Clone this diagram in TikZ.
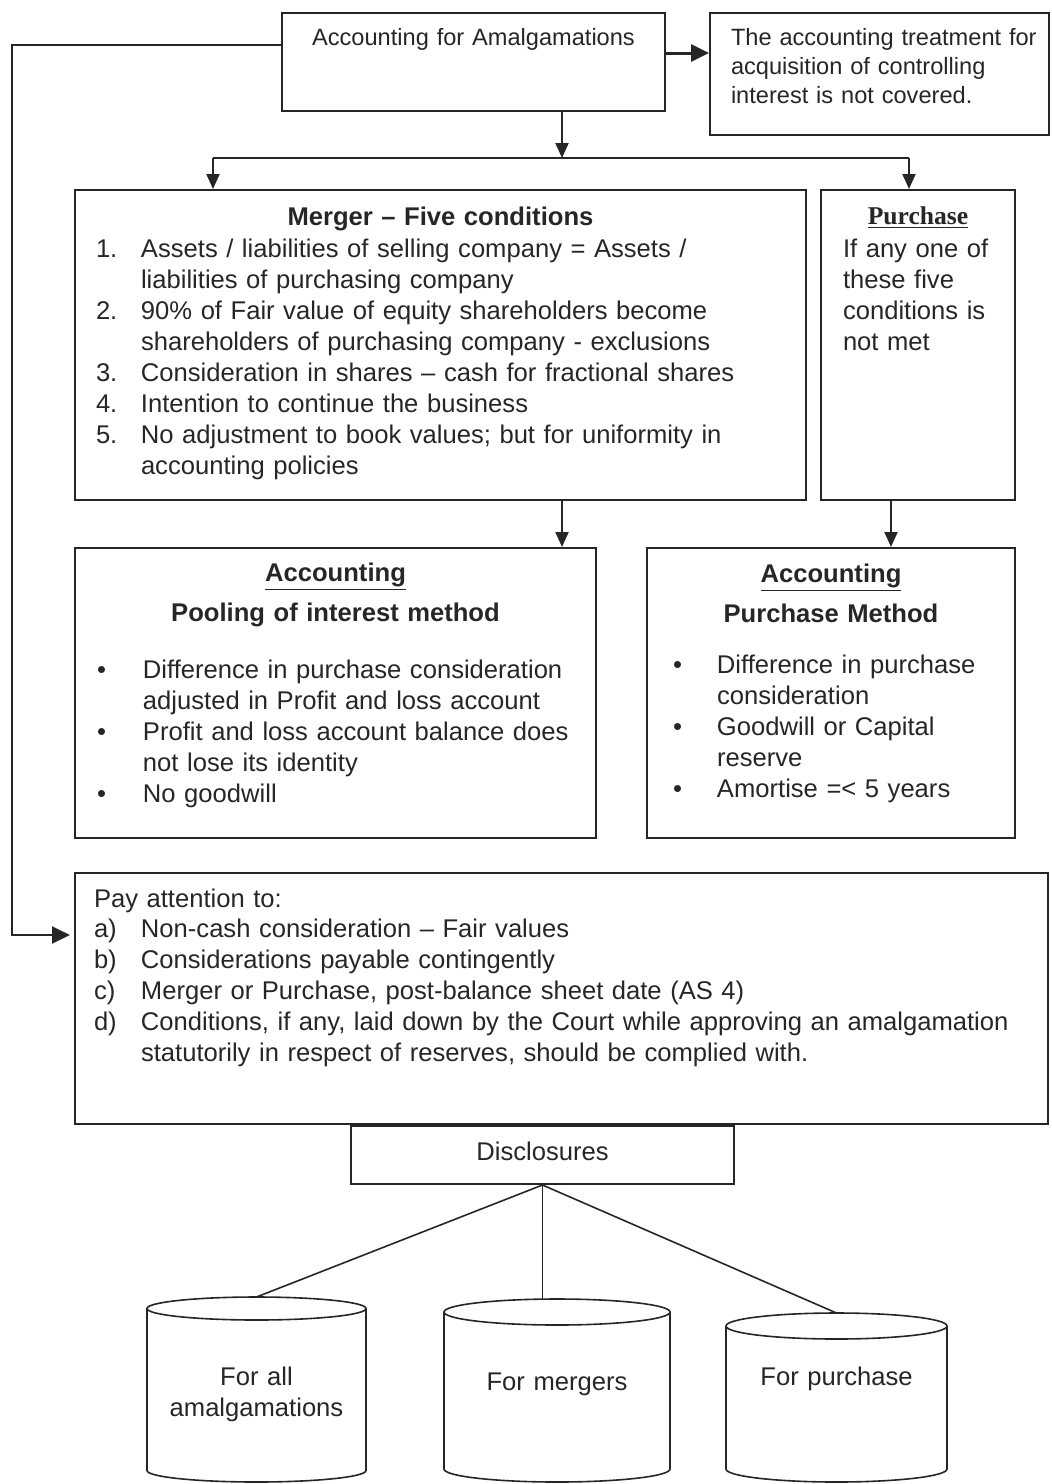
\documentclass[tikz,border=0pt]{standalone}
\usepackage{fontspec}
\setmainfont{Liberation Sans}
\newfontfamily\serifhead{Liberation Serif}
\usetikzlibrary{arrows.meta,fit}

\newcommand{\nitem}[1]{\makebox[22.5pt][l]{#1}}
\newcommand{\ncont}{\hspace*{22.5pt}}

\begin{document}
\begin{tikzpicture}[x=0.5pt,y=-0.5pt,
  line width=1pt, color=black!85,
  box/.style={draw, inner sep=0pt},
  txt/.style={inner sep=0pt, anchor=base west, align=left, text width=#1,
    font=\fontsize{12.8}{15.5}\selectfont},
  ctr/.style={inner sep=0pt, anchor=base, align=center, text width=#1,
    font=\fontsize{12.8}{15.5}\selectfont},
  arr/.style={-{Triangle[length=7.5pt,width=6.5pt]}},
  bigarr/.style={-{Triangle[length=9pt,width=8.5pt]}},
  link/.style={line width=0.8pt}]
  \useasboundingbox (0,0) rectangle (1051,1484);

  % boxes
  \node[box, fit={(282,13) (665,111)}] (top) {};
  \node[box, fit={(710,13) (1049,135)}] (note) {};
  \node[box, fit={(75,190) (806,500)}] (merger) {};
  \node[box, fit={(821,190) (1015,500)}] (purch) {};
  \node[box, fit={(75,548) (596,838)}] (pool) {};
  \node[box, fit={(647,548) (1015,838)}] (pmeth) {};
  \node[box, fit={(75,873) (1048,1124)}] (attn) {};
  \node[box, fit={(351,1126) (734,1184)}] (discl) {};

  % texts
  \node[ctr=300pt, font=\fontsize{11.8}{14.5}\selectfont] (toptxt) at (473.5,45) {Accounting for Amalgamations};
  \node[txt=165pt, font=\fontsize{11.8}{14.5}\selectfont] (notetxt) at (730,45)
    {The accounting treatment for\\ acquisition of controlling\\ interest is not covered.};

  \node[ctr=360pt] (mergerhd) at (440.5,225) {\textbf{Merger -- Five conditions}};
  \node[txt=360pt] (mergerlist) at (95,257)
    {\nitem{1.}Assets / liabilities of selling company = Assets /\\
     \ncont liabilities of purchasing company\\
     \nitem{2.}90\% of Fair value of equity shareholders become\\
     \ncont shareholders of purchasing company - exclusions\\
     \nitem{3.}Consideration in shares -- cash for fractional shares\\
     \nitem{4.}Intention to continue the business\\
     \nitem{5.}No adjustment to book values; but for uniformity in\\
     \ncont accounting policies};

  \node[ctr=90pt] (purchhd) at (918,224) {\serifhead\bfseries\underline{Purchase}};
  \node[txt=90pt] (purchtxt) at (842,257) {If any one of\\ these five\\ conditions is\\ not met};

  \node[ctr=240pt] (poolhd) at (335.5,581) {\textbf{\underline{Accounting}}};
  \node[ctr=240pt] (poolsub) at (335.5,621) {\textbf{Pooling of interest method}};
  \node[txt=250pt] (poollist) at (96,678)
    {\makebox[23pt][l]{•}Difference in purchase consideration\\
     \hspace*{23pt}adjusted in Profit and loss account\\
     \makebox[23pt][l]{•}Profit and loss account balance does\\
     \hspace*{23pt}not lose its identity\\
     \makebox[23pt][l]{•}No goodwill};

  \node[ctr=170pt] (pmethhd) at (831,582) {\textbf{\underline{Accounting}}};
  \node[ctr=170pt] (pmethsub) at (831,622) {\textbf{Purchase Method}};
  \node[txt=170pt] (pmethlist) at (672,673)
    {\makebox[22pt][l]{•}Difference in purchase\\
     \hspace*{22pt}consideration\\
     \makebox[22pt][l]{•}Goodwill or Capital\\
     \hspace*{22pt}reserve\\
     \makebox[22pt][l]{•}Amortise =< 5 years};

  \node[txt=480pt, font=\fontsize{12.8}{15.4}\selectfont] (attntxt) at (93,907)
    {Pay attention to:\\
     \makebox[23.5pt][l]{a)}Non-cash consideration -- Fair values\\
     \makebox[23.5pt][l]{b)}Considerations payable contingently\\
     \makebox[23.5pt][l]{c)}Merger or Purchase, post-balance sheet date (AS 4)\\
     \makebox[23.5pt][l]{d)}Conditions, if any, laid down by the Court while approving an amalgamation\\
     \hspace*{23.5pt}statutorily in respect of reserves, should be complied with.};

  \node[ctr=150pt] (discltxt) at (542.5,1160) {Disclosures};

  % cylinders
  \draw[link] (147,1308.5) -- (147,1470.5) arc[start angle=180, end angle=360, x radius=54.75pt, y radius=5.75pt] -- (366,1308.5);
  \draw[link] (256.5,1308.5) ellipse [x radius=54.75pt, y radius=5.75pt];
  \draw[link] (444,1312) -- (444,1469) arc[start angle=180, end angle=360, x radius=56.5pt, y radius=6.5pt] -- (670,1312);
  \draw[link] (557,1312) ellipse [x radius=56.5pt, y radius=6.5pt];
  \draw[link] (726,1326) -- (726,1469) arc[start angle=180, end angle=360, x radius=55.25pt, y radius=6.5pt] -- (947,1326);
  \draw[link] (836.5,1326) ellipse [x radius=55.25pt, y radius=6.5pt];
  \coordinate (cylA) at (256.5,1297);
  \coordinate (cylB) at (542.5,1300);
  \coordinate (cylC) at (836.5,1313);
  \node[ctr=110pt] (cylAtxt) at (256.5,1385) {For all\\ amalgamations};
  \node[ctr=110pt] (cylBtxt) at (557,1390) {For mergers};
  \node[ctr=110pt] (cylCtxt) at (836.5,1385) {For purchase};

  % connectors
  \draw[bigarr, line width=1.5pt] ([yshift=4.5pt]top.east) -- ([yshift=4.5pt]top.east -| note.west);
  \coordinate (split) at (562,158);
  \coordinate (brL) at (213,158);
  \coordinate (brR) at (909,158);
  \coordinate (pdrop) at (891,500);
  \draw[arr] (top.south -| split) -- (split);
  \draw (brL) -- (brR);
  \draw[arr] (brL) -- (brL |- merger.north);
  \draw[arr] (brR) -- (brR |- purch.north);
  \draw[arr] (split |- merger.south) -- (split |- pool.north);
  \draw[arr] (pdrop) -- (pdrop |- pmeth.north);
  \draw[bigarr, shorten >=2pt] ([yshift=8.5pt]top.west) -- ++(-269,0) |- ([yshift=31.75pt]attn.west);

  \draw[link] (discl.south) -- (cylA);
  \draw[link] (discl.south) -- (cylB);
  \draw[link] (discl.south) -- (cylC);
\end{tikzpicture}
\end{document}
